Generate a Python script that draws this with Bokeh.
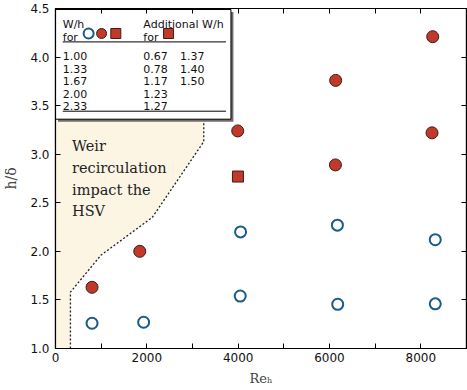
from bokeh.plotting import figure
from bokeh.models import FixedTicker, PrintfTickFormatter, LinearAxis, CustomJSTickFormatter
from bokeh.embed import file_html
from bokeh.resources import INLINE
from bokeh.core.properties import value

# ---- data ----
open_re = [800, 1930, 4045, 6180, 8316, 4053, 6173, 8316]
open_h = [1.26, 1.27, 1.54, 1.455, 1.46, 2.20, 2.27, 2.12]
fill_re = [800, 1845, 3990, 6135, 8260, 6130, 8245]
fill_h = [1.63, 2.00, 3.24, 3.76, 4.21, 2.89, 3.22]
sq_re = [3995]
sq_h = [2.77]
bound_re = [327, 327, 994, 2120, 3247, 3247]
bound_h = [1.0, 1.58, 1.96, 2.35, 3.13, 4.5]
wh_main = ["1.00", "1.33", "1.67", "2.00", "2.33"]
wh_add1 = ["0.67", "0.78", "1.17", "1.23", "1.27"]
wh_add2 = ["1.37", "1.40", "1.50"]
x_ticks = [0, 2000, 4000, 6000, 8000]
x_minor = [1000, 3000, 5000, 7000, 9000]
y_ticks = [1.0, 1.5, 2.0, 2.5, 3.0, 3.5, 4.0, 4.5]
region_text = ["Weir", "recirculation", "impact the", "HSV"]

X0, X1, Y0, Y1 = 0, 9000, 1.0, 4.5
W, H = 467, 390
BL, BR, BT, BB = 53, 1, 8, 42
FW = W - BL - BR
FH = H - BT - BB


def px_x(px):
    return X0 + px * (X1 - X0) / FW


def px_y(px):
    return Y1 - px * (Y1 - Y0) / FH


BLUE = "#1b5b87"
RED = "#c0392b"
RED_EDGE = "#3b1e17"
SANS = value("DejaVu Sans")
SERIF = value("DejaVu Serif")

p = figure(width=W, height=H, x_range=(X0, X1), y_range=(Y0, Y1),
           output_backend="svg", toolbar_location=None,
           min_border_left=BL, min_border_right=BR,
           min_border_top=BT, min_border_bottom=BB)
p.xgrid.visible = False
p.ygrid.visible = False
p.outline_line_color = "black"
p.outline_line_width = 1.2
p.background_fill_color = "white"
p.border_fill_color = "white"

xt = FixedTicker(ticks=x_ticks, minor_ticks=x_minor)
yt = FixedTicker(ticks=y_ticks)


def style_axis(ax, labels=True):
    ax.major_tick_in = 5
    ax.major_tick_out = 0
    ax.minor_tick_in = 5
    ax.minor_tick_out = 0
    ax.major_tick_line_color = "black"
    ax.minor_tick_line_color = "black"
    ax.axis_line_color = "black"
    ax.axis_line_width = 1.2
    if labels:
        ax.major_label_text_font = "DejaVu Sans"
        ax.major_label_text_font_size = "12px"
        ax.major_label_text_color = "#111111"
    else:
        ax.formatter = CustomJSTickFormatter(code="return '';")
        ax.major_label_standoff = 0


p.xaxis.ticker = xt
p.yaxis.ticker = yt
p.yaxis.formatter = PrintfTickFormatter(format="%.1f")
style_axis(p.xaxis[0])
style_axis(p.yaxis[0])
p.xaxis.major_label_standoff = 4
p.yaxis.major_label_standoff = 6
p.yaxis.minor_tick_line_color = None
p.yaxis.axis_label = "h/δ"
p.yaxis.axis_label_text_font = "DejaVu Serif"
p.yaxis.axis_label_text_font_style = "normal"
p.yaxis.axis_label_text_font_size = "14px"
p.yaxis.axis_label_standoff = 8
p.xaxis.axis_label = "Reₕ"
p.xaxis.axis_label_text_font = "DejaVu Serif"
p.xaxis.axis_label_text_font_style = "normal"
p.xaxis.axis_label_text_font_size = "13px"
p.xaxis.axis_label_standoff = 6

top_ax = LinearAxis(ticker=xt)
style_axis(top_ax, labels=False)
p.add_layout(top_ax, "above")
right_ax = LinearAxis(ticker=yt)
style_axis(right_ax, labels=False)
right_ax.minor_tick_line_color = None
p.add_layout(right_ax, "right")

# shaded region + boundary
p.patch([X0] + bound_re + [X0], [Y0] + bound_h + [Y1],
        fill_color="#fdf5e4", line_color=None)
p.line(bound_re, bound_h, line_color="#222222", line_width=1.3, line_dash="2 2")

# region text
for i, t in enumerate(region_text):
    p.text(x=[px_x(16.6)], y=[px_y(137.4 + 21.8 * i)], text=[t],
           text_font=SERIF, text_font_size="14.5px", text_color="#222222",
           text_baseline="alphabetic", text_align="left")

# legend table
p.quad(left=[px_x(2.5)], right=[px_x(178.8)], top=[px_y(3.5)], bottom=[px_y(113.2)],
       fill_color="#6e6e6e", line_color=None)
p.quad(left=[px_x(0)], right=[px_x(176.3)], top=[px_y(1)], bottom=[px_y(110.7)],
       fill_color="white", line_color="black", line_width=1)


def txt(dxp, dyp, s):
    p.text(x=[px_x(dxp)], y=[px_y(dyp)], text=[s], text_font=SANS,
           text_font_size="11px", text_color="#111111",
           text_baseline="alphabetic", text_align="left")


txt(7.3, 15.7, "W/h")
txt(7.3, 28.7, "for")
txt(88.3, 15.7, "Additional W/h")
txt(88.3, 28.7, "for")
for i, s in enumerate(wh_main):
    txt(7.3, 47.7 + 12.5 * i, s)
for i, s in enumerate(wh_add1):
    txt(88.3, 47.7 + 12.5 * i, s)
for i, s in enumerate(wh_add2):
    txt(125, 47.7 + 12.5 * i, s)
p.segment(x0=[px_x(7.3), px_x(7.3)], x1=[px_x(171.3), px_x(171.3)],
          y0=[px_y(33.4), px_y(102.7)], y1=[px_y(33.4), px_y(102.7)],
          line_color="black", line_width=1)
p.scatter([px_x(33.3)], [px_y(25)], marker="circle", size=10, fill_color=None,
          line_color=BLUE, line_width=2)
p.scatter([px_x(46.3)], [px_y(25)], marker="circle", size=10, fill_color=RED,
          line_color=RED_EDGE, line_width=1)
p.scatter([px_x(60.6), px_x(113.6)], [px_y(25), px_y(25)], marker="square", size=10,
          fill_color=RED, line_color=RED_EDGE, line_width=1)

# data markers
p.scatter(open_re, open_h, marker="circle", size=11, fill_color=None,
          line_color=BLUE, line_width=2)
p.scatter(fill_re, fill_h, marker="circle", size=12, fill_color=RED,
          line_color=RED_EDGE, line_width=1)
p.scatter(sq_re, sq_h, marker="square", size=11, fill_color=RED,
          line_color=RED_EDGE, line_width=1)

open("out.html", "w").write(file_html(p, INLINE))
